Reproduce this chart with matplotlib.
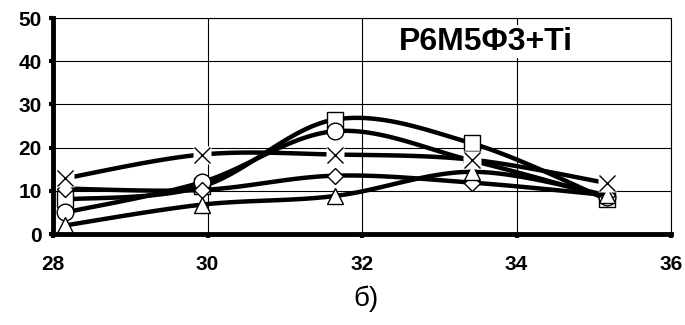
import numpy as np
import matplotlib.pyplot as plt

plt.rcParams['font.family'] = ['Liberation Sans', 'DejaVu Sans']

# data
x = [28.16, 29.93, 31.65, 33.42, 35.17]
sq = [8.0, 11.0, 26.5, 21.0, 8.0]
circ = [5.0, 12.0, 23.8, 17.0, 8.5]
cross = [12.9, 18.4, 18.4, 17.2, 11.8]
diam = [10.5, 10.2, 13.5, 11.9, 9.0]
tri = [2.0, 6.8, 8.8, 14.4, 9.0]

xticks = [28, 30, 32, 34, 36]
yticks = [0, 10, 20, 30, 40, 50]


def smooth(xs, ys, n=30):
    # Catmull-Rom through the points (like Excel "smoothed line")
    xs = np.asarray(xs, float)
    ys = np.asarray(ys, float)
    px = np.concatenate([[xs[0]], xs, [xs[-1]]])
    py = np.concatenate([[ys[0]], ys, [ys[-1]]])
    ox, oy = [], []
    t = np.linspace(0, 1, n)
    for i in range(1, len(px) - 2):
        for p, o in ((px, ox), (py, oy)):
            p0, p1, p2, p3 = p[i - 1], p[i], p[i + 1], p[i + 2]
            o.extend(0.5 * (2 * p1 + (-p0 + p2) * t
                            + (2 * p0 - 5 * p1 + 4 * p2 - p3) * t ** 2
                            + (-p0 + 3 * p1 - 3 * p2 + p3) * t ** 3))
    return ox, oy


fig = plt.figure(figsize=(6.85, 3.25), dpi=100)
ax = fig.add_axes([0.0774, 0.28, 0.9022, 0.6646])

series = [(sq, 's'), (circ, 'o'), (diam, 'D'), (tri, '^'), (cross, 'x')]
z = 3
for ys, m in series:
    sx, sy = smooth(x, ys)
    ax.plot(sx, sy, color='black', lw=3.2, zorder=z, solid_capstyle='butt')
    if m == 'x':
        ax.plot(x, ys, ls='none', marker='s', ms=13, mfc='white', mec='none', zorder=z + 0.5)
        ax.plot(x, ys, ls='none', marker='x', ms=12, mew=1.0, color='black', zorder=z + 0.6)
    else:
        ms = {'s': 11, 'o': 12, 'D': 8, '^': 12}[m]
        ax.plot(x, ys, ls='none', marker=m, ms=ms, mfc='white', mec='black', mew=1.0, zorder=z + 0.5)
    z += 1

ax.set_xlim(28, 36)
ax.set_ylim(0, 50)
ax.set_xticks(xticks)
ax.set_yticks(yticks)
ax.grid(True, color='black', lw=0.8)
ax.set_axisbelow(True)

for s in ['top', 'right']:
    ax.spines[s].set_linewidth(0.8)
for s in ['left', 'bottom']:
    ax.spines[s].set_linewidth(3.5)
    ax.spines[s].set_zorder(20)

ax.tick_params(axis='both', direction='out', length=3, width=3, labelsize=15, pad=5)
ax.tick_params(axis='x', pad=12)
for lab in ax.get_xticklabels() + ax.get_yticklabels():
    lab.set_fontweight('bold')

ax.text(0.70, 0.89, 'P6M5Φ3+Ti', transform=ax.transAxes, ha='center', va='center',
        fontsize=23, fontweight='bold', zorder=30,
        bbox=dict(facecolor='white', edgecolor='none', pad=1))

fig.text(0.535, 0.08, 'б)', ha='center', va='center', fontsize=20)

fig.savefig('out.png', dpi=100)
